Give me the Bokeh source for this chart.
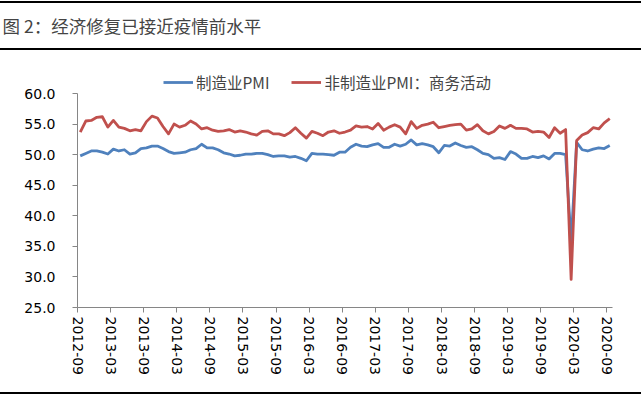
from bokeh.plotting import figure
from bokeh.models import (Range1d, FixedTicker, PrintfTickFormatter, Legend, LegendItem,
                          ColumnDataSource)
from bokeh.embed import file_html
from bokeh.resources import INLINE

title_text = "图 2：经济修复已接近疫情前水平"
series_names = ["制造业PMI", "非制造业PMI：商务活动"]

# monthly data 2012-09 .. 2020-09
mfg = [49.8, 50.2, 50.6, 50.6,
       50.4, 50.1, 50.9, 50.6, 50.8, 50.1, 50.3, 51.0, 51.1, 51.4, 51.4, 51.0,
       50.5, 50.2, 50.3, 50.4, 50.8, 51.0, 51.7, 51.1, 51.1, 50.8, 50.3, 50.1,
       49.8, 49.9, 50.1, 50.1, 50.2, 50.2, 50.0, 49.7, 49.8, 49.8, 49.6, 49.7,
       49.4, 49.0, 50.2, 50.1, 50.1, 50.0, 49.9, 50.4, 50.4, 51.2, 51.7, 51.4,
       51.3, 51.6, 51.8, 51.2, 51.2, 51.7, 51.4, 51.7, 52.4, 51.6, 51.8, 51.6,
       51.3, 50.3, 51.5, 51.4, 51.9, 51.5, 51.2, 51.3, 50.8, 50.2, 50.0, 49.4,
       49.5, 49.2, 50.5, 50.1, 49.4, 49.4, 49.7, 49.5, 49.8, 49.3, 50.2, 50.2,
       50.0, 35.7, 52.0, 50.8, 50.6, 50.9, 51.1, 51.0, 51.5]
nonmfg = [53.7, 55.5, 55.6, 56.1,
          56.2, 54.5, 55.6, 54.5, 54.3, 53.9, 54.1, 53.9, 55.4, 56.3, 56.0, 54.6,
          53.4, 55.0, 54.5, 54.8, 55.5, 55.0, 54.2, 54.4, 54.0, 53.8, 53.9, 54.1,
          53.7, 53.9, 53.7, 53.4, 53.2, 53.8, 53.9, 53.4, 53.4, 53.1, 53.6, 54.4,
          53.5, 52.7, 53.8, 53.5, 53.1, 53.7, 53.9, 53.5, 53.7, 54.0, 54.7, 54.5,
          54.6, 54.2, 55.1, 54.0, 54.5, 54.9, 54.5, 53.4, 55.4, 54.3, 54.8, 55.0,
          55.3, 54.4, 54.6, 54.8, 54.9, 55.0, 54.0, 54.2, 54.9, 53.9, 53.4, 53.8,
          54.7, 54.3, 54.8, 54.3, 54.3, 54.2, 53.7, 53.8, 53.7, 52.8, 54.4, 53.5,
          54.1, 29.6, 52.3, 53.2, 53.6, 54.4, 54.2, 55.2, 55.9]

tick_labels = ["2012-09", "2013-03", "2013-09", "2014-03", "2014-09", "2015-03",
               "2015-09", "2016-03", "2016-09", "2017-03", "2017-09", "2018-03",
               "2018-09", "2019-03", "2019-09", "2020-03", "2020-09"]
y_ticks = [25, 30, 35, 40, 45, 50, 55, 60]

n = len(mfg)
xs = [i + 0.5 for i in range(n)]
tick_pos = [6 * i for i in range(len(tick_labels))]

W, H = 641, 398
TOP = 46               # frame starts here; strip above the 60 tick holds the legend
FRAME_H = 307 - TOP
Y_TOP = 60 + (93 - TOP) * 35 / 214

p = figure(width=W, height=H, frame_width=535, frame_height=FRAME_H,
           x_range=Range1d(0, 97), y_range=Range1d(25, Y_TOP),
           output_backend="svg", toolbar_location=None,
           min_border_left=77, min_border_right=29, min_border_top=TOP, min_border_bottom=91,
           outline_line_color=None, border_fill_color=None, background_fill_color=None)
p.xgrid.visible = False
p.ygrid.visible = False

# thin black rules (top, under the title, bottom) drawn as the figure's backdrop
p.styles = {
    "background": ("linear-gradient(#000,#000) 0px 1px / 100% 2px no-repeat, "
                   "linear-gradient(#000,#000) 0px 48px / 100% 2px no-repeat, "
                   "linear-gradient(#000,#000) 0px 392px / 100% 2px no-repeat, #ffffff"),
}

p.title.text = title_text
p.title.text_font = "Noto Sans CJK SC"
p.title.text_font_size = "17.5px"
p.title.text_font_style = "normal"
p.title.align = "left"
p.title.offset = -75
p.title.standoff = 18

src = ColumnDataSource(dict(x=xs, mfg=mfg, nonmfg=nonmfg))
r1 = p.line("x", "mfg", source=src, line_color="#4F81BD", line_width=2.8, line_join="round")
r2 = p.line("x", "nonmfg", source=src, line_color="#C0504D", line_width=2.8, line_join="round")

AX = "#868686"
p.yaxis.ticker = FixedTicker(ticks=y_ticks)
p.yaxis.formatter = PrintfTickFormatter(format="%.1f")
p.yaxis.bounds = (25, 60)
p.xaxis.ticker = FixedTicker(ticks=tick_pos)
p.xaxis.major_label_overrides = {t: l for t, l in zip(tick_pos, tick_labels)}
p.xaxis.major_label_orientation = "vertical"
for ax in (p.xaxis[0], p.yaxis[0]):
    ax.axis_line_color = AX
    ax.major_tick_line_color = AX
    ax.minor_tick_line_color = None
    ax.major_tick_in = 0
    ax.major_tick_out = 5
    ax.major_label_text_font = "DejaVu Sans"
    ax.major_label_text_font_size = "14px"
    ax.major_label_text_color = "#000000"
p.yaxis.major_label_standoff = 17
p.xaxis.major_label_standoff = 4

legend = Legend(items=[LegendItem(label=series_names[0], renderers=[r1]),
                       LegendItem(label=series_names[1], renderers=[r2])],
                orientation="horizontal", location=(86, 214),
                label_text_font="Noto Sans CJK SC", label_text_font_size="15.5px",
                glyph_width=30, glyph_height=14, label_standoff=3, spacing=22,
                padding=2, margin=0, border_line_color=None, background_fill_alpha=0)
p.add_layout(legend, "center")

open("out.html", "w").write(file_html(p, INLINE))
